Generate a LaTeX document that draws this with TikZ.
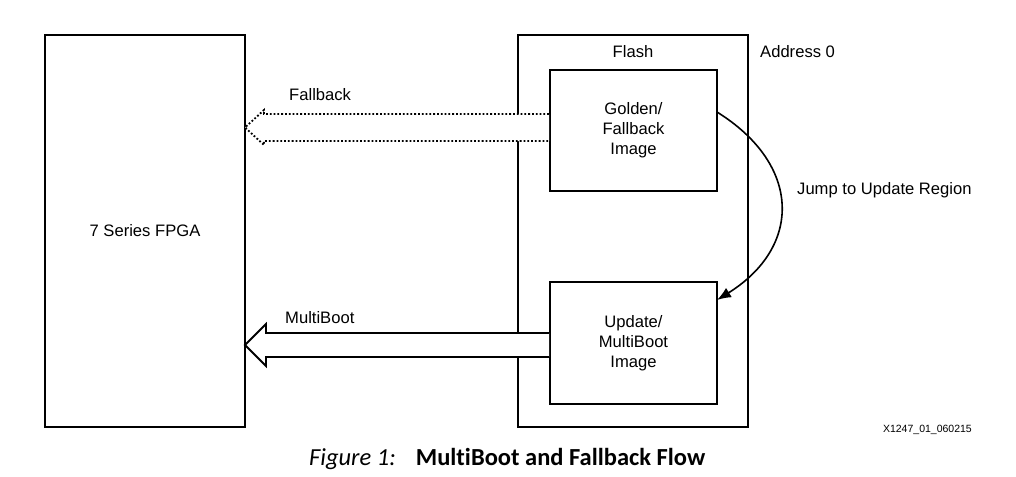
\documentclass[tikz,border=0pt]{standalone}
\usepackage{fontspec}
\setmainfont{Liberation Sans}
\newfontfamily\capfont[Ligatures=NoCommon]{Carlito}
\usetikzlibrary{arrows.meta}
\tikzset{
  lbl/.style={font=\fontsize{16.6pt}{20pt}\selectfont, inner sep=0pt},
  bigbox/.style={draw, line width=2pt, inner sep=0pt, outer sep=0pt, fill=white},
  imgbox/.style={draw, line width=2pt, inner sep=0pt, outer sep=0pt, fill=white, align=center,
     font=\fontsize{16.6pt}{20pt}\selectfont, minimum width=167pt},
  hollowarrow/.style={line width=1.8pt, fill=white, line join=miter},
  dotarrow/.style={line width=1.8pt, fill=white, dotted},
  jump/.style={line width=1.6pt, -{Latex[length=14pt,width=11pt]}},
}
\begin{document}
\begin{tikzpicture}[x=1pt,y=-1pt]
\useasboundingbox (0,0) rectangle (1016,476);
\node[bigbox, minimum width=200pt, minimum height=392pt, font=\fontsize{16.6pt}{20pt}\selectfont] (fpga) at (145,231) {7 Series FPGA};
\node[bigbox, minimum width=230pt, minimum height=392pt] (flash) at (633,231) {};
\node[imgbox, minimum height=121pt] (golden) at (633.5,130.5) {Golden/\\Fallback\\Image};
\node[imgbox, minimum height=122pt] (update) at (633.5,343) {Update/\\MultiBoot\\Image};

\node[lbl, anchor=base] (flashlbl) at (633,58) {Flash};
\node[lbl, anchor=base west] (addr) at (760,58) {Address 0};
\node[lbl, anchor=base west] (fblbl) at (289,100) {Fallback};
\node[lbl, anchor=base west] (mblbl) at (285,323) {MultiBoot};
\node[lbl, anchor=base west] (jumplbl) at (797,194) {Jump to Update Region};
\node[font=\fontsize{10.5pt}{12pt}\selectfont, inner sep=0pt, anchor=base east] (fignum) at (972,432) {X1247\_01\_060215};
\node[font=\capfont\fontsize{24.5pt}{28pt}\selectfont, inner sep=0pt, anchor=base west] (caption) at (309,465)
  {\textit{Figure 1:}\hspace{20pt}\textbf{MultiBoot and Fallback Flow}};

% Fallback (dotted hollow arrow)
\draw[dotarrow] ([xshift=-1pt,yshift=16.5pt]golden.west) -- ++(-285,0) -- ++(0,-4)
   -- ++(-19,17.5) -- ++(19,17.5) -- ++(0,-4) -- ++(285,0);
% MultiBoot (solid hollow arrow)
\draw[hollowarrow] ([xshift=-1pt,yshift=10pt]update.west) -- ++(-283,0) -- ++(0,-9)
   -- ++(-21,21) -- ++(21,21) -- ++(0,-9) -- ++(283,0);
% Jump
\draw[jump] ([yshift=18.5pt]golden.east) .. controls +(85,53) and +(85,-53) .. ([yshift=43pt]update.east);
\end{tikzpicture}
\end{document}
